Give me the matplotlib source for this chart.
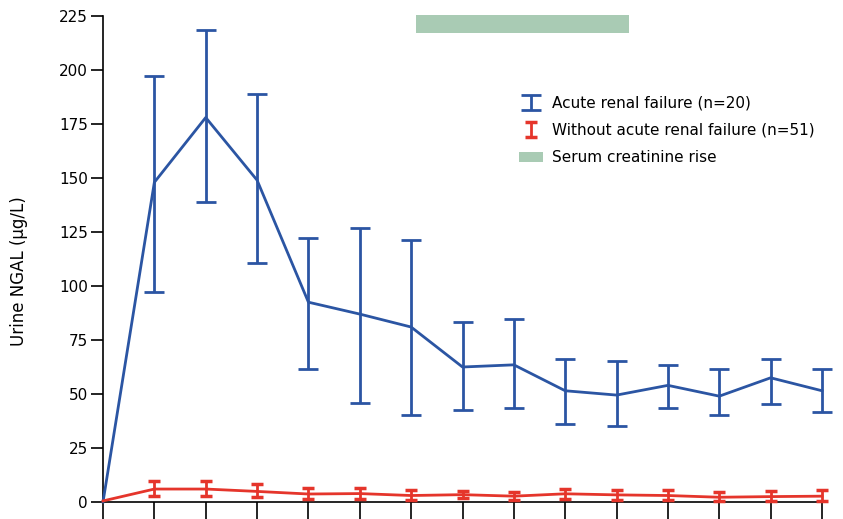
import numpy as np
import matplotlib.pyplot as plt
from matplotlib.patches import Patch

plt.rcParams["font.family"] = ["DejaVu Sans"]

timepoints = np.arange(15)

arf_mean = [0, 148, 178, 149, 92.5, 87, 81, 62.5, 63.5, 51.5, 49.5, 54, 49, 57.5, 51.5]
arf_upper = [0, 197, 218.5, 189, 122, 127, 121.5, 83.5, 84.5, 66, 65.5, 63.5, 61.5, 66, 61.5]
arf_lower = [0, 97, 139, 110.5, 61.5, 46, 40.5, 42.5, 43.5, 36, 35, 43.5, 40.5, 45.5, 41.5]

no_arf_mean = [0.5, 6, 6, 4.9, 3.7, 3.9, 3.0, 3.4, 2.7, 3.8, 3.3, 3.0, 2.2, 2.5, 2.7]
no_arf_upper = [0.5, 9.8, 9.8, 8.2, 6.3, 6.5, 5.4, 5.2, 4.5, 6.2, 5.4, 5.4, 4.5, 5.2, 5.4]
no_arf_lower = [0.5, 2.7, 2.7, 2.2, 1.5, 1.5, 0.7, 1.8, 0.7, 1.5, 0.7, 0.7, 0.6, 0.6, 0.6]

creat_rise_start = 6.1
creat_rise_end = 10.25
creat_rise_band = (217, 225.5)

blue = "#2b55a3"
red = "#e5352b"
green = "#a9cbb4"

fig = plt.figure(figsize=(8.43, 5.19), dpi=100)
ax = fig.add_axes([103 / 843, 17 / 519, (822 - 103) / 843, (502 - 16) / 519])

arf_mean = np.array(arf_mean)
no_arf_mean = np.array(no_arf_mean)
arf_err = [arf_mean - np.array(arf_lower), np.array(arf_upper) - arf_mean]
no_arf_err = [no_arf_mean - np.array(no_arf_lower), np.array(no_arf_upper) - no_arf_mean]

ax.plot(timepoints, arf_mean, color=blue, lw=2, zorder=3, clip_on=False)
eb1 = ax.errorbar(timepoints[1:], arf_mean[1:], yerr=[e[1:] for e in arf_err], fmt="none",
                  ecolor=blue, elinewidth=2, capsize=7, capthick=2, zorder=3,
                  label="Acute renal failure (n=20)")

ax.plot(timepoints, no_arf_mean, color=red, lw=2, zorder=4, clip_on=False)
eb2 = ax.errorbar(timepoints[1:], no_arf_mean[1:], yerr=[e[1:] for e in no_arf_err], fmt="none",
                  ecolor=red, elinewidth=2, capsize=4.5, capthick=2.5, zorder=4,
                  label="Without acute renal failure (n=51)")
for eb in (eb1, eb2):
    for art in eb.lines[1] + eb.lines[2]:
        art.set_clip_on(False)

ax.broken_barh([(creat_rise_start, creat_rise_end - creat_rise_start)],
               (creat_rise_band[0], creat_rise_band[1] - creat_rise_band[0]),
               facecolors=green, clip_on=False)

ax.set_xlim(0, 14)
ax.set_ylim(0, 225)
ax.set_yticks(np.arange(0, 226, 25))
ax.set_xticks(timepoints)
ax.set_xticklabels([])
ax.tick_params(axis="y", length=9, width=1.2, labelsize=11, pad=2)
ax.tick_params(axis="x", length=14, width=1.2)
for s in ["top", "right"]:
    ax.spines[s].set_visible(False)
for s in ["left", "bottom"]:
    ax.spines[s].set_linewidth(1.2)
ax.set_ylabel("Urine NGAL (µg/L)", fontsize=12, labelpad=20)
ax.yaxis.set_label_coords(-0.105, 0.475)

handles, labels = ax.get_legend_handles_labels()
handles.append(Patch(facecolor=green, edgecolor="none"))
labels.append("Serum creatinine rise")
ax.legend(handles, labels, loc="upper left", bbox_to_anchor=(505 / 843, 1 - 82 / 519),
          bbox_transform=fig.transFigure, frameon=False, fontsize=11,
          handlelength=1.6, handletextpad=0.6, labelspacing=0.8)

fig.savefig("out.png", dpi=100)
